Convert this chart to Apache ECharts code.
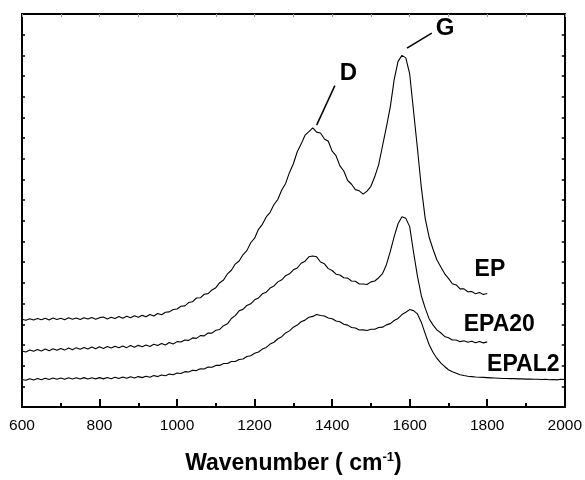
<!DOCTYPE html>
<html>
<head>
<meta charset="utf-8">
<script src="https://cdn.jsdelivr.net/npm/echarts@6/dist/echarts.min.js"></script>
<style>
html,body{margin:0;padding:0;background:#fff;}
#chart{width:585px;height:480px;}
</style>
</head>
<body>
<div id="chart"></div>
<script>
// Wavenumber grid (cm-1)
const wavenumber = [600,610,620,630,640,650,660,670,680,690,700,710,720,730,740,750,760,770,780,790,800,810,820,830,840,850,860,870,880,890,900,910,920,930,940,950,960,970,980,990,1000,1010,1020,1030,1040,1050,1060,1070,1080,1090,1100,1110,1120,1130,1140,1150,1160,1170,1180,1190,1200,1210,1220,1230,1240,1250,1260,1270,1280,1290,1300,1310,1320,1330,1340,1350,1360,1370,1380,1390,1400,1410,1420,1430,1440,1450,1460,1470,1480,1490,1500,1510,1520,1530,1540,1550,1560,1570,1580,1590,1600,1610,1620,1630,1640,1650,1660,1670,1680,1690,1700,1710,1720,1730,1740,1750,1760,1770,1780,1790,1800,1810,1820,1830,1840,1850,1860,1870,1880,1890,1900,1910,1920,1930,1940,1950,1960,1970,1980,1990,2000];

// Intensities (arb. units, offset), 600..1800
const EP = [4.24,4.19,4.27,4.21,4.28,4.22,4.29,4.21,4.30,4.23,
4.29,4.22,4.31,4.24,4.30,4.23,4.32,4.25,4.33,4.24,
4.32,4.35,4.26,4.34,4.28,4.37,4.29,4.39,4.32,4.41,
4.34,4.43,4.36,4.47,4.40,4.52,4.46,4.58,4.60,4.71,
4.74,4.87,4.89,5.05,5.09,5.27,5.28,5.45,5.48,5.66,
5.77,6.01,6.14,6.44,6.61,6.91,7.06,7.36,7.56,7.94,
8.16,8.59,8.83,9.19,9.41,9.79,10.04,10.49,10.81,11.34,
11.76,12.34,12.71,13.14,13.31,13.49,13.29,13.25,12.96,12.85,
12.37,12.15,11.66,11.41,10.95,10.77,10.51,10.45,10.29,10.44,
10.67,11.14,11.72,12.63,13.54,14.51,15.83,16.71,17.00,16.88,
16.10,14.30,12.50,10.62,9.12,8.22,7.64,7.12,6.78,6.45,
6.22,5.96,5.90,5.71,5.71,5.57,5.58,5.47,5.54,5.44,
5.49];

const EPA20 = [2.71,2.66,2.76,2.69,2.78,2.71,2.80,2.72,2.82,2.74,
2.83,2.75,2.85,2.77,2.87,2.79,2.88,2.80,2.90,2.82,
2.91,2.83,2.92,2.85,2.94,2.86,2.95,2.87,2.97,2.89,
2.98,2.91,3.00,2.93,3.03,2.97,3.07,3.00,3.12,3.05,
3.16,3.14,3.24,3.22,3.34,3.32,3.45,3.44,3.58,3.57,
3.71,3.75,3.93,4.02,4.28,4.42,4.65,4.72,4.91,4.99,
5.18,5.27,5.47,5.55,5.75,5.85,6.05,6.15,6.35,6.44,
6.63,6.72,6.95,7.05,7.26,7.30,7.26,7.01,6.92,6.69,
6.60,6.42,6.38,6.25,6.23,6.09,6.08,5.95,5.95,5.92,
6.05,6.09,6.25,6.45,6.88,7.52,8.24,8.86,9.20,9.12,
8.72,7.48,6.33,5.38,4.78,4.27,3.97,3.73,3.59,3.41,
3.35,3.24,3.24,3.16,3.20,3.13,3.18,3.11,3.17,3.10,
3.15];

// 600..2000
const EPAL2 = [1.33,1.29,1.37,1.31,1.38,1.32,1.39,1.33,1.40,1.34,
1.40,1.34,1.41,1.35,1.41,1.35,1.42,1.35,1.41,1.36,
1.42,1.36,1.43,1.37,1.44,1.38,1.45,1.39,1.46,1.40,
1.47,1.42,1.49,1.44,1.52,1.47,1.55,1.51,1.59,1.56,
1.64,1.62,1.71,1.69,1.78,1.76,1.85,1.84,1.93,1.92,
2.01,2.01,2.10,2.10,2.20,2.20,2.30,2.32,2.44,2.48,
2.60,2.66,2.80,2.88,3.04,3.13,3.30,3.40,3.58,3.68,
3.86,3.96,4.12,4.20,4.34,4.38,4.47,4.42,4.40,4.30,
4.27,4.16,4.12,4.00,3.96,3.84,3.82,3.72,3.73,3.70,
3.76,3.76,3.84,3.86,3.97,4.03,4.18,4.28,4.47,4.58,
4.71,4.66,4.50,4.10,3.55,3.02,2.65,2.36,2.13,1.96,
1.80,1.70,1.63,1.56,1.52,1.49,1.47,1.45,1.44,1.43,
1.42,1.41,1.40,1.39,1.38,1.38,1.37,1.37,1.36,1.36,
1.35,1.35,1.34,1.34,1.33,1.34,1.32,1.33,1.31,1.34,
1.33];

const xTicks = [600,800,1000,1200,1400,1600,1800,2000];

// Annotation text labels: [text, wavenumber, intensity, fontSize]
const annoLabels = [
  ['D', 1442, 16.14, 24],
  ['G', 1691, 18.30, 24],
  ['EP', 1807, 6.62, 23],
  ['EPA20', 1831, 4.00, 23],
  ['EPAL2', 1893, 2.05, 23]
];
// Annotation leader lines: [w1, v1, w2, v2]
const annoLines = [
  [1407, 15.54, 1360, 13.63],
  [1657, 18.08, 1593, 17.35]
];

function pairs(vals){ return vals.map((v,i)=>[wavenumber[i], v]); }

const FONT = 'Liberation Sans, Arial, Helvetica, sans-serif';
const chart = echarts.init(document.getElementById('chart'), null, {renderer:'canvas'});

const lineSeries = (name, vals, extra) => Object.assign({
  name: name, type: 'line', data: pairs(vals), showSymbol: false, symbol: 'none',
  lineStyle: {color: '#000', width: 1.1}, silent: true, animation: false,
  xAxisIndex: 0, yAxisIndex: 0
}, extra || {});

chart.setOption({
  animation: false,
  backgroundColor: '#fff',
  grid: {left: 22, right: 18, top: 14, bottom: 67, containLabel: false},
  xAxis: [{
    type: 'value', position: 'bottom', min: 600, max: 2000, interval: 200,
    axisLine: {onZero: false, lineStyle: {color: '#000', width: 2}},
    axisTick: {inside: true, length: 8, lineStyle: {color: '#000', width: 2}},
    minorTick: {show: true, splitNumber: 2, length: 4, lineStyle: {color: '#000', width: 2}},
    splitLine: {show: false}, minorSplitLine: {show: false},
    axisLabel: {color: '#000', fontSize: 15.5, margin: 11, fontFamily: FONT,
      formatter: v => xTicks.indexOf(v) >= 0 ? String(v) : ''},
    name: '{t|Wavenumber ( cm}{s|-1}{t|)}',
    nameLocation: 'middle', nameGap: 44,
    nameTextStyle: {
      rich: {
        t: {fontSize: 23, fontWeight: 'bold', fontFamily: FONT, color: '#000', lineHeight: 25},
        s: {fontSize: 13, fontWeight: 'bold', fontFamily: FONT, color: '#000', verticalAlign: 'top', lineHeight: 25}
      }
    }
  }, {
    type: 'value', position: 'top', min: 600, max: 2000, interval: 100,
    axisLine: {onZero: false, lineStyle: {color: '#000', width: 2}},
    axisTick: {inside: true, length: 3, lineStyle: {color: '#999', width: 1}},
    splitLine: {show: false}, axisLabel: {show: false}
  }],
  yAxis: [{
    type: 'value', position: 'left', min: 0, max: 19, interval: 1,
    axisLine: {show: true, onZero: false, lineStyle: {color: '#000', width: 2}},
    axisTick: {show: true, inside: true, length: 3, lineStyle: {color: '#000', width: 1.5}},
    splitLine: {show: false}, axisLabel: {show: false}
  }, {
    type: 'value', position: 'right', min: 0, max: 19, interval: 1,
    axisLine: {show: true, onZero: false, lineStyle: {color: '#000', width: 2}},
    axisTick: {show: true, inside: true, length: 3, lineStyle: {color: '#000', width: 1.5}},
    splitLine: {show: false}, axisLabel: {show: false}
  }],
  series: [
    lineSeries('EP', EP, {
      markLine: {
        silent: true, symbol: ['none', 'none'], animation: false,
        label: {show: false},
        lineStyle: {color: '#000', width: 1.5, type: 'solid'},
        data: annoLines.map(l => [{coord: [l[0], l[1]]}, {coord: [l[2], l[3]]}])
      },
      markPoint: {
        silent: true, animation: false, symbol: 'circle', symbolSize: 1,
        itemStyle: {color: 'rgba(0,0,0,0)'},
        data: annoLabels.map(a => ({
          name: a[0], coord: [a[1], a[2]],
          label: {show: true, position: 'inside', formatter: a[0], color: '#000',
            fontSize: a[3], fontWeight: 'bold', fontFamily: FONT}
        }))
      }
    }),
    lineSeries('EPA20', EPA20),
    lineSeries('EPAL2', EPAL2)
  ]
});
</script>
</body>
</html>
